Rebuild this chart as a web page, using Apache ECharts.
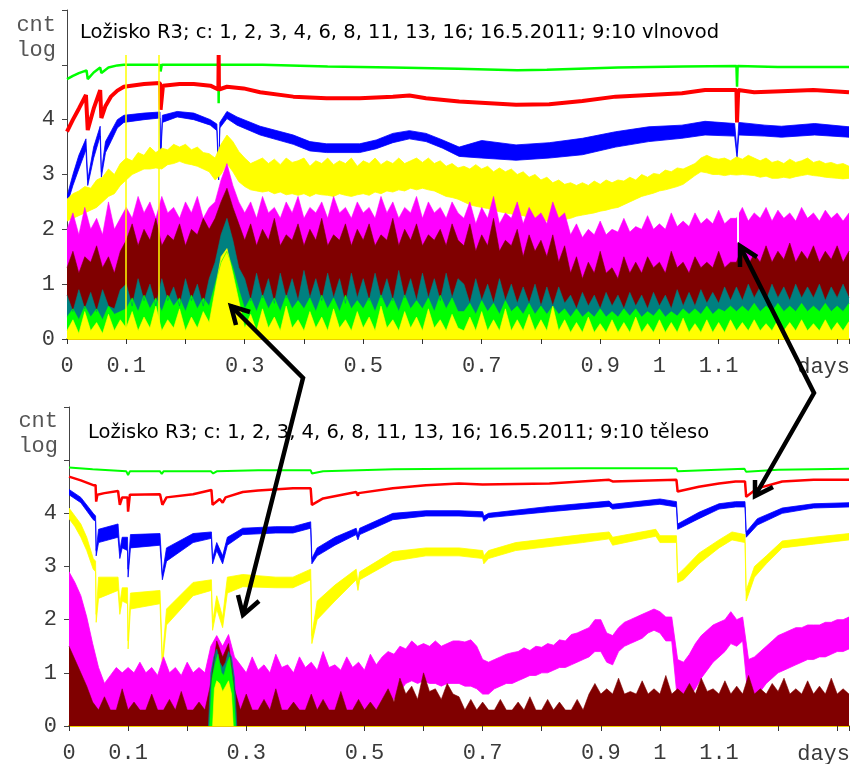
<!DOCTYPE html>
<html><head><meta charset="utf-8">
<script src="https://cdn.jsdelivr.net/npm/echarts@6/dist/echarts.min.js"></script>
<style>html,body{margin:0;padding:0;background:#fff}#c{width:852px;height:764px}</style>
</head><body><div id="c"></div>
<script>
// ---------- tick labels ----------
const xTickLabels = ['0','0.1','','0.3','','0.5','','0.7','','0.9','1','1.1','',''];
const yTickLabels = ['0','1','2','3','4','',''];
const titleTop = 'Ložisko R3; c: 1, 2, 3, 4, 6, 8, 11, 13, 16; 16.5.2011; 9:10 vlnovod';
const titleBottom = 'Ložisko R3; c: 1, 2, 3, 4, 6, 8, 11, 13, 16; 16.5.2011; 9:10 těleso';

// ---------- shared sample positions (days) ----------
const xs = [0,0.01,0.02,0.03,0.04,0.05,0.06,0.07,0.08,0.09,
0.1,0.11,0.12,0.13,0.14,0.15,0.16,0.17,0.18,0.19,
0.2,0.21,0.22,0.23,0.24,0.25,0.26,0.27,0.28,0.29,
0.3,0.31,0.32,0.33,0.34,0.35,0.36,0.37,0.38,0.39,
0.4,0.41,0.42,0.43,0.44,0.45,0.46,0.47,0.48,0.49,
0.5,0.51,0.52,0.53,0.54,0.55,0.56,0.57,0.58,0.59,
0.6,0.61,0.62,0.63,0.64,0.65,0.66,0.67,0.68,0.69,
0.7,0.71,0.72,0.73,0.74,0.75,0.76,0.77,0.78,0.79,
0.8,0.81,0.82,0.83,0.84,0.85,0.86,0.87,0.88,0.89,
0.9,0.91,0.92,0.93,0.94,0.95,0.96,0.97,0.98,0.99,
1,1.01,1.02,1.03,1.04,1.05,1.06,1.07,1.08,1.09,
1.1,1.11,1.12,1.13,1.14,1.15,1.16,1.17,1.18,1.19,
1.2,1.21,1.22,1.23,1.24,1.25,1.26,1.27,1.28,1.29,
1.3,1.31,1.32];

// ================= TOP PANEL (vlnovod) =================
const topGreen = [[0,4.74],[0.01,4.8],[0.02,4.85],[0.033,4.9],[0.035,4.74],[0.045,4.86],[0.056,4.95],[0.058,4.85],[0.07,4.95],[0.085,4.99],[0.096,5.0],[0.13,5.0],[0.157,5.0],[0.158,4.88],[0.16,5.0],[0.2555,5.0],[0.256,4.3],[0.2565,5.0],[0.33,5.0],[0.44,4.97],[0.55,4.95],[0.66,4.93],[0.76,4.9],[0.81,4.91],[0.93,4.95],[1.04,4.97],[1.13,4.98],[1.131,4.6],[1.132,4.98],[1.2,4.96],[1.32,4.96]];
const topRed = [[0,3.78],[0.01,4.0],[0.02,4.2],[0.032,4.45],[0.035,3.81],[0.045,4.2],[0.056,4.54],[0.058,4.03],[0.065,4.25],[0.074,4.42],[0.085,4.53],[0.096,4.6],[0.13,4.65],[0.157,4.67],[0.158,4.18],[0.162,4.62],[0.19,4.65],[0.214,4.65],[0.242,4.62],[0.2555,4.55],[0.256,5.18],[0.2565,4.55],[0.27,4.6],[0.298,4.57],[0.326,4.5],[0.382,4.42],[0.438,4.39],[0.494,4.39],[0.55,4.42],[0.578,4.44],[0.606,4.39],[0.662,4.33],[0.758,4.27],[0.814,4.28],[0.87,4.34],[0.926,4.42],[0.982,4.45],[1.038,4.48],[1.077,4.54],[1.13,4.54],[1.131,3.95],[1.133,4.54],[1.16,4.5],[1.206,4.52],[1.26,4.54],[1.32,4.5]];
const topBlueX = [0,0.01,0.02,0.032,0.035,0.045,0.056,0.058,0.065,0.075,0.085,0.096,0.13,0.157,0.158,0.161,0.186,0.214,0.242,0.253,0.256,0.258,0.27,0.287,0.326,0.382,0.41,0.438,0.494,0.522,0.55,0.578,0.606,0.634,0.662,0.70,0.758,0.814,0.87,0.926,0.982,1.038,1.077,1.127,1.131,1.134,1.178,1.206,1.262,1.32];
const topBlueLo = [2.45,2.8,3.1,3.45,2.8,3.3,3.7,2.95,3.4,3.62,3.85,3.95,4.0,4.03,3.24,3.95,4.05,4.0,3.9,3.8,2.9,3.85,4.02,3.9,3.72,3.55,3.43,3.4,3.4,3.47,3.58,3.65,3.6,3.48,3.33,3.3,3.26,3.3,3.36,3.5,3.6,3.66,3.72,3.7,3.3,3.72,3.7,3.68,3.72,3.68];
const topBlueHi = [2.6,3.0,3.35,3.65,2.9,3.5,3.88,3.05,3.6,3.8,4.0,4.08,4.12,4.14,3.3,4.08,4.15,4.12,4.0,3.92,3.0,3.95,4.15,4.05,3.88,3.72,3.6,3.56,3.56,3.63,3.75,3.8,3.75,3.63,3.5,3.62,3.54,3.58,3.66,3.78,3.87,3.9,3.97,3.93,3.4,3.95,3.9,3.88,3.93,3.87];
const topYellowHi = [2.55,2.65,2.7,2.78,2.75,2.9,2.95,3.1,3.0,3.2,
3.3,3.25,3.4,3.35,3.5,3.4,3.48,3.45,3.55,3.5,
3.55,3.45,3.5,3.4,3.38,3.3,3.55,3.72,3.6,3.42,
3.3,3.2,3.25,3.3,3.2,3.28,3.18,3.3,3.22,3.25,
3.3,3.15,3.25,3.2,3.3,3.18,3.25,3.2,3.3,3.15,
3.25,3.2,3.3,3.18,3.25,3.2,3.3,3.2,3.25,3.3,
3.22,3.3,3.2,3.25,3.15,3.2,3.12,3.15,3.1,3.18,
3.1,3.15,3.05,3.12,3.05,3.1,3.0,3.05,2.95,3.0,
2.9,2.95,2.85,2.9,2.82,2.85,2.8,2.85,2.8,2.88,
2.82,2.9,2.85,2.9,2.88,2.95,2.9,3.0,2.95,3.02,
3.0,3.08,3.05,3.12,3.1,3.15,3.2,3.3,3.35,3.3,
3.28,3.3,3.25,3.32,3.28,3.35,3.3,3.25,3.3,3.22,
3.25,3.2,3.28,3.22,3.25,3.3,3.22,3.25,3.2,3.22,
3.18,3.2,3.15];
const topYellowLo = [2.15,2.2,2.25,2.3,2.35,2.4,2.5,2.6,2.65,2.8,
2.9,3.0,3.05,3.1,3.1,3.12,3.1,3.18,3.2,3.24,
3.2,3.18,3.15,3.1,3.05,2.9,3.0,3.2,3.05,2.87,
2.78,2.72,2.7,2.68,2.7,2.65,2.68,2.63,2.65,2.62,
2.65,2.6,2.65,2.63,2.62,2.6,2.65,2.62,2.6,2.63,
2.65,2.62,2.68,2.65,2.7,2.68,2.72,2.7,2.75,2.72,
2.75,2.72,2.7,2.65,2.6,2.58,2.55,2.5,2.45,2.42,
2.4,2.38,2.35,2.32,2.3,2.28,2.26,2.25,2.22,2.2,
2.18,2.15,2.14,2.15,2.18,2.2,2.24,2.26,2.28,2.3,
2.33,2.35,2.38,2.4,2.45,2.5,2.55,2.6,2.63,2.66,
2.7,2.72,2.75,2.78,2.82,2.9,2.98,3.05,3.03,3.0,
3.0,2.98,3.0,2.99,3.0,2.99,2.98,2.95,2.97,2.93,
2.93,2.95,2.93,2.96,2.98,3.0,2.98,2.97,2.95,2.94,
2.93,2.92,2.93];
const topMagenta = [2.0,2.3,1.9,2.4,2.0,2.2,1.9,2.5,2.0,2.2,
2.4,2.2,2.6,2.3,2.5,2.2,2.6,2.3,2.4,2.2,2.5,2.3,2.6,2.2,2.4,
2.5,2.9,3.2,2.8,2.5,
2.3,2.5,2.2,2.6,2.3,2.4,2.2,2.5,2.3,2.6,2.2,2.4,2.3,2.5,2.2,2.6,2.3,2.4,2.2,2.5,2.3,2.4,2.2,2.6,2.3,2.5,2.2,2.4,2.3,2.6,2.2,2.5,2.3,2.4,2.2,2.5,2.3,
2.2,2.5,2.1,2.4,2.2,2.6,2.1,2.3,2.2,2.5,2.1,2.4,2.2,2.3,2.1,2.5,2.2,2.3,
1.9,2.1,1.85,2.0,1.9,2.15,1.9,2.0,1.95,2.2,1.95,2.05,2.0,2.25,2.0,2.1,2.0,2.3,2.05,2.15,2.05,2.3,2.1,2.2,2.1,2.35,2.1,2.2,
2.2,2.4,2.15,2.3,2.2,2.4,2.15,2.35,2.2,2.3,2.15,2.4,2.2,2.3,2.15,2.35,2.2,2.3,2.15,2.3];
const topMaroon = [1.3,1.6,1.2,1.5,1.4,1.7,1.3,1.5,1.2,1.6,
1.8,2.1,1.7,2.0,1.8,2.2,1.7,1.9,1.8,2.1,1.7,2.0,1.9,2.2,2.0,
2.2,2.5,2.75,2.4,2.1,
1.8,2.1,1.7,2.0,1.8,2.2,1.7,1.9,1.8,2.1,1.7,2.0,1.8,2.2,1.7,1.9,1.8,2.1,1.7,2.0,1.8,2.1,1.7,1.9,1.8,2.2,1.7,2.0,1.8,2.1,1.7,1.9,1.8,2.0,1.7,2.1,1.8,
1.7,2.1,1.6,1.9,1.7,2.2,1.6,1.8,1.7,2.0,1.5,1.9,1.6,1.8,1.5,1.9,1.4,1.7,
1.2,1.5,1.1,1.4,1.2,1.6,1.2,1.3,1.1,1.5,1.2,1.4,1.2,1.5,1.3,1.4,1.2,1.6,1.3,1.4,1.2,1.5,1.3,1.4,1.3,1.6,1.3,1.4,
1.4,1.7,1.35,1.55,1.4,1.7,1.4,1.6,1.45,1.75,1.4,1.6,1.45,1.7,1.4,1.6,1.45,1.7,1.4,1.6];
const topTeal = [0.8,0.5,0.9,0.55,0.85,0.5,0.9,0.6,0.55,0.9,
1.0,0.6,1.1,0.7,1.0,0.6,1.1,0.7,0.95,0.6,1.1,0.7,1.0,0.6,1.1,
1.4,1.9,2.2,1.8,1.3,
1.1,0.7,1.2,0.75,1.1,0.65,1.2,0.75,1.1,0.7,1.25,0.75,1.1,0.7,1.2,0.75,1.1,0.65,1.2,0.75,1.1,0.7,1.2,0.75,1.1,0.7,1.25,0.75,1.1,0.7,1.2,0.75,1.1,0.7,1.2,0.75,1.1,
1.0,0.65,1.1,0.7,1.0,0.65,1.1,0.7,1.0,0.65,0.95,0.65,1.0,0.6,0.95,0.6,0.95,0.65,
0.8,0.55,0.85,0.6,0.8,0.55,0.85,0.6,0.8,0.55,0.85,0.6,0.8,0.55,0.85,0.6,0.8,0.55,0.9,0.6,0.85,0.6,0.9,0.65,0.85,0.65,0.95,0.7,
0.95,0.7,1.0,0.75,0.95,0.7,1.0,0.75,0.95,0.7,1.0,0.75,0.95,0.75,1.0,0.7,0.95,0.75,1.0,0.75];
const topLime = [0.4,0.55,0.35,0.6,0.4,0.55,0.35,0.6,0.45,0.5,
0.55,0.75,0.5,0.8,0.55,0.75,0.5,0.8,0.6,0.75,0.5,0.8,0.55,0.75,0.6,
1.0,1.4,1.6,1.3,0.9,
0.55,0.75,0.5,0.8,0.55,0.75,0.5,0.8,0.55,0.7,0.55,0.75,0.5,0.8,0.55,0.75,0.5,0.8,0.55,0.7,0.55,0.75,0.5,0.8,0.55,0.75,0.5,0.8,0.55,0.7,0.55,0.75,0.5,0.8,0.55,0.75,0.5,
0.5,0.65,0.45,0.7,0.5,0.65,0.45,0.7,0.5,0.6,0.45,0.65,0.45,0.6,0.45,0.6,0.45,0.55,
0.4,0.55,0.4,0.5,0.4,0.55,0.4,0.5,0.4,0.55,0.42,0.55,0.4,0.5,0.42,0.55,0.4,0.5,0.42,0.55,0.45,0.55,0.45,0.6,0.45,0.55,0.5,0.6,
0.5,0.6,0.5,0.65,0.5,0.6,0.5,0.65,0.5,0.6,0.5,0.65,0.5,0.6,0.5,0.65,0.5,0.6,0.5,0.65];
const topYellow2 = [0.15,0.35,0.1,0.5,0.15,0.3,0.1,0.45,0.15,0.35,
0.2,0.5,0.15,0.4,0.2,0.6,0.15,0.35,0.2,0.55,0.15,0.4,0.2,0.5,0.3,
0.9,1.5,1.65,1.2,0.7,
0.2,0.45,0.15,0.55,0.2,0.4,0.15,0.6,0.2,0.35,0.15,0.5,0.2,0.4,0.15,0.55,0.2,0.35,0.15,0.5,0.2,0.4,0.15,0.6,0.2,0.35,0.15,0.5,0.2,0.4,0.15,0.55,0.2,0.35,0.15,0.45,0.2,
0.15,0.4,0.15,0.5,0.15,0.35,0.15,0.55,0.15,0.35,0.15,0.45,0.15,0.35,0.15,0.6,0.15,0.35,
0.12,0.3,0.12,0.4,0.12,0.28,0.12,0.35,0.12,0.3,0.12,0.4,0.12,0.28,0.12,0.35,0.12,0.3,0.12,0.38,0.12,0.28,0.12,0.35,0.12,0.3,0.12,0.35,
0.15,0.3,0.15,0.35,0.15,0.28,0.15,0.35,0.15,0.3,0.15,0.35,0.15,0.28,0.15,0.35,0.15,0.3,0.15,0.32];
// full-height glitches: [day, from, to]
const topSpikes = [[0.099,0,5.18],[0.155,0,5.18]];
const topGaps = [[1.132,1.75,2.95]];

// ================= BOTTOM PANEL (těleso) =================
const botGreen = [[0,4.86],[0.04,4.83],[0.097,4.79],[0.1,4.72],[0.103,4.79],[0.154,4.79],[0.157,4.74],[0.16,4.79],[0.24,4.79],[0.244,4.75],[0.25,4.79],[0.32,4.81],[0.409,4.81],[0.411,4.75],[0.43,4.79],[0.55,4.83],[0.66,4.84],[0.87,4.85],[1.028,4.85],[1.03,4.79],[1.143,4.84],[1.146,4.78],[1.2,4.82],[1.32,4.84]];
const botRed = [[0,4.69],[0.02,4.62],[0.041,4.53],[0.045,4.53],[0.046,4.22],[0.048,4.35],[0.06,4.38],[0.083,4.42],[0.086,4.16],[0.09,4.3],[0.099,4.3],[0.1,4.03],[0.103,4.35],[0.154,4.36],[0.158,4.16],[0.165,4.3],[0.21,4.36],[0.241,4.44],[0.243,4.16],[0.255,4.27],[0.26,4.2],[0.265,4.3],[0.294,4.4],[0.32,4.43],[0.379,4.47],[0.409,4.47],[0.411,4.16],[0.43,4.28],[0.486,4.4],[0.489,4.33],[0.49,4.38],[0.548,4.47],[0.604,4.53],[0.66,4.56],[0.7,4.54],[0.813,4.56],[0.914,4.63],[0.92,4.6],[1.028,4.63],[1.03,4.41],[1.066,4.5],[1.1,4.56],[1.128,4.6],[1.144,4.6],[1.146,4.31],[1.165,4.47],[1.207,4.6],[1.26,4.63],[1.32,4.63]];
const botBlueX = [0,0.02,0.041,0.045,0.046,0.05,0.083,0.086,0.09,0.099,0.1,0.104,0.154,0.158,0.165,0.21,0.241,0.243,0.25,0.26,0.268,0.294,0.35,0.379,0.409,0.411,0.42,0.45,0.486,0.489,0.492,0.548,0.604,0.66,0.7,0.702,0.71,0.813,0.914,0.92,1.0,1.028,1.03,1.066,1.1,1.128,1.144,1.146,1.165,1.207,1.26,1.32];
const botBlueLo = [4.35,4.2,3.88,3.85,3.2,3.45,3.55,3.15,3.35,3.3,2.8,3.35,3.4,2.75,3.1,3.45,3.53,3.05,3.3,3.05,3.4,3.6,3.63,3.63,3.72,3.05,3.2,3.4,3.6,3.5,3.6,3.88,3.95,3.95,3.93,3.85,3.92,4.03,4.13,4.08,4.17,4.12,3.7,3.9,4.08,4.12,4.12,3.55,3.78,4.0,4.1,4.12];
const botBlueHi = [4.45,4.3,4.0,3.95,3.3,3.7,3.8,3.3,3.55,3.55,2.95,3.6,3.62,2.85,3.35,3.62,3.65,3.15,3.45,3.2,3.55,3.72,3.75,3.75,3.84,3.15,3.35,3.55,3.72,3.6,3.72,4.0,4.05,4.05,4.03,3.95,4.0,4.13,4.23,4.17,4.27,4.22,3.8,4.02,4.18,4.22,4.22,3.65,3.9,4.1,4.18,4.2];
const botYellowX = [0,0.01,0.02,0.03,0.041,0.045,0.046,0.05,0.083,0.086,0.09,0.099,0.1,0.104,0.154,0.158,0.165,0.21,0.241,0.243,0.25,0.26,0.268,0.294,0.35,0.379,0.409,0.411,0.42,0.45,0.486,0.489,0.492,0.548,0.604,0.66,0.7,0.702,0.71,0.756,0.869,0.914,0.92,0.993,1.0,1.028,1.03,1.04,1.066,1.1,1.122,1.144,1.146,1.16,1.18,1.207,1.26,1.32];
const botYellowLo = [3.9,3.75,3.55,3.3,2.95,2.9,1.95,2.4,2.55,2.1,2.35,2.3,1.45,2.2,2.3,1.1,1.9,2.45,2.55,1.8,2.2,1.85,2.5,2.62,2.6,2.6,2.75,1.55,2.0,2.35,2.75,2.55,2.75,3.1,3.2,3.2,3.15,3.05,3.15,3.3,3.45,3.52,3.4,3.57,3.45,3.45,2.7,2.75,3.05,3.35,3.5,3.45,2.35,2.8,3.05,3.35,3.42,3.5];
const botYellowHi = [4.1,3.95,3.8,3.55,3.15,3.1,2.1,2.8,2.8,2.3,2.6,2.6,1.6,2.5,2.55,1.25,2.2,2.7,2.75,1.95,2.45,2.05,2.8,2.85,2.8,2.8,2.95,1.7,2.35,2.65,2.95,2.7,2.9,3.28,3.35,3.35,3.3,3.2,3.3,3.45,3.6,3.65,3.55,3.7,3.58,3.58,2.85,2.95,3.25,3.5,3.65,3.6,2.55,3.0,3.2,3.48,3.55,3.62];
const botMagentaHi = [2.9,2.7,2.45,2.05,1.55,1.1,0.8,0.95,1.1,1.0,
1.1,1.0,1.2,1.0,1.1,0.95,1.3,1.0,1.1,0.95,1.2,1.0,1.1,1.0,
1.5,1.7,1.5,1.72,1.3,
1.15,1.0,1.3,1.05,1.15,1.0,1.35,1.1,1.15,1.0,1.3,1.1,1.2,1.05,1.4,1.1,1.15,1.05,1.3,1.1,1.2,1.05,1.35,1.15,
1.3,1.4,1.35,1.5,1.45,1.6,1.5,1.55,1.5,1.6,1.5,1.55,1.6,
1.6,1.58,1.62,1.5,1.25,1.2,1.25,1.3,1.35,1.38,
1.4,1.47,1.42,1.5,1.48,1.55,1.52,1.62,1.6,1.72,
1.75,1.8,1.85,2.0,2.0,1.75,1.7,1.85,1.95,2.0,
2.05,2.1,2.15,2.2,2.15,2.05,2.05,1.25,1.2,1.35,
1.55,1.7,1.8,1.9,1.95,2.0,2.15,2.0,2.05,1.25,
1.3,1.4,1.5,1.6,1.7,1.75,1.8,1.85,1.85,1.9,
1.9,1.9,1.95,1.95,2.0,2.0,2.05];
const botMagentaLo = [0,0,0,0,0,0,0,0,0,0,0,0,0,0,0,0,0,0,0,0,0,0,0,0,0,0,0,0,0,0,0,0,0,0,0,0,0,0,0,0,0,0,0,0,0,0,0,0,0,0,0,0,0,
0.2,0.4,0.5,0.65,0.8,0.85,0.8,0.85,0.8,0.8,
0.75,0.8,0.8,0.8,0.75,0.75,0.7,0.6,0.6,0.7,
0.75,0.8,0.8,0.85,0.9,0.95,0.95,1.0,1.0,1.05,
1.1,1.1,1.15,1.2,1.25,1.3,1.4,1.4,1.2,1.15,
1.4,1.5,1.55,1.6,1.65,1.75,1.8,1.75,1.6,1.6,
0.45,0.4,0.55,0.7,0.9,1.05,1.2,1.3,1.4,1.55,
1.5,1.6,0.45,0.5,0.65,0.8,0.9,1.0,1.05,1.1,
1.15,1.2,1.25,1.25,1.3,1.3,1.35,1.4,1.4,1.45];
const botMaroon = [1.5,1.25,1.0,0.75,0.45,
0.3,0.55,0.3,0.3,0.7,0.3,0.45,0.3,0.3,0.6,0.3,0.3,0.5,0.3,0.65,0.3,0.3,0.45,0.3,
0.8,1.6,1.3,1.55,0.7,
0.3,0.6,0.3,0.3,0.5,0.3,0.7,0.3,0.3,0.45,0.3,0.3,0.6,0.3,0.5,0.3,0.3,0.65,0.3,0.3,0.5,0.3,0.45,0.3,
0.5,0.7,0.45,0.9,0.6,0.75,0.5,1.0,0.65,0.7,0.5,0.8,0.6,0.55,
0.3,0.5,0.3,0.45,0.3,0.3,0.5,0.3,0.3,0.45,0.3,0.55,0.3,0.3,0.5,0.3,0.45,0.3,0.3,0.5,0.3,
0.6,0.8,0.6,0.7,0.6,0.9,0.6,0.65,0.6,0.85,0.6,0.7,0.6,0.95,0.6,0.7,0.6,0.8,0.6,0.9,
0.65,0.7,0.6,0.85,0.6,0.75,0.6,0.95,0.6,0.7,0.6,0.8,0.65,0.9,0.6,0.7,0.6,0.85,0.6,0.75,
0.6,0.9,0.6,0.7,0.6];
const botTeal = [[0.236,0],[0.24,1.0],[0.245,1.3],[0.25,1.45],[0.255,1.2],[0.26,1.1],[0.265,1.2],[0.27,1.4],[0.275,1.3],[0.28,0.9],[0.284,0]];
const botLime = [[0.238,0],[0.242,0.9],[0.248,1.2],[0.252,1.35],[0.258,1.0],[0.262,0.95],[0.268,1.2],[0.272,1.3],[0.278,0.8],[0.282,0]];
const botYellow2 = [[0.243,0],[0.246,0.7],[0.25,0.85],[0.255,0.8],[0.26,0.65],[0.265,0.75],[0.27,0.85],[0.275,0.6],[0.278,0]];

// ---------- build ----------
const series = [];
function pairs(x, y) { return x.map((v, i) => [v, y[i]]); }
function line(gi, data, color, width) {
  series.push({type:'line', xAxisIndex:gi, yAxisIndex:gi, data, symbol:'none', silent:true,
    lineStyle:{color, width}});
}
function area(gi, data, color, extra) {
  series.push(Object.assign({type:'line', xAxisIndex:gi, yAxisIndex:gi, data, symbol:'none', silent:true,
    lineStyle:{color, width:0.6}, areaStyle:{color, opacity:1}}, extra || {}));
}
// noisy band between lo and hi, drawn as one polygon through the axis scales
function band(gi, x, lo, hi, color) {
  series.push({type:'custom', xAxisIndex:gi, yAxisIndex:gi, silent:true, clip:true,
    data: x.map((v, i) => [v, lo[i], hi[i]]),
    encode:{x:0, y:[1, 2]},
    renderItem: function (params, api) {
      if (params.dataIndex !== 0) return null;
      const top = x.map((v, i) => api.coord([v, hi[i]]));
      const bot = x.map((v, i) => api.coord([v, lo[i]])).reverse();
      return {type:'polygon', shape:{points: top.concat(bot)},
        style:{fill:color, stroke:color, lineWidth:0.8}};
    }});
}

line(0, topGreen, '#00ff00', 2.5);
line(0, topRed, '#ff0000', 4);
band(0, topBlueX, topBlueLo, topBlueHi, '#0000ff');
band(0, xs, topYellowLo, topYellowHi, '#ffff00');
area(0, pairs(xs, topMagenta), '#ff00ff');
area(0, pairs(xs, topMaroon), '#800000');
area(0, pairs(xs, topTeal), '#008080');
area(0, pairs(xs, topLime), '#00ff00');
area(0, pairs(xs, topYellow2), '#ffff00', {
  markLine: {silent:true, symbol:['none','none'], animation:false, label:{show:false},
    lineStyle:{color:'#ffff00', width:1.5, type:'solid', opacity:1},
    data: topSpikes.map(s => [{coord:[s[0], s[1]]}, {coord:[s[0], s[2]]}])
      .concat(topGaps.map(s => [{coord:[s[0], s[1]], lineStyle:{color:'#ffffff', width:2}}, {coord:[s[0], s[2]]}]))}
});

line(1, botGreen, '#00ff00', 2);
line(1, botRed, '#ff0000', 2.5);
band(1, botBlueX, botBlueLo, botBlueHi, '#0000ff');
band(1, botYellowX, botYellowLo, botYellowHi, '#ffff00');
band(1, xs, botMagentaLo, botMagentaHi, '#ff00ff');
area(1, pairs(xs, botMaroon), '#800000');
area(1, botTeal, '#008080');
area(1, botLime, '#00ff00');
area(1, botYellow2, '#ffff00');

const mono = '"Liberation Mono", "Courier New", monospace';
const labelColor = '#3a3a3a';
function xAxis(gi) {
  return {type:'value', gridIndex:gi, min:0, max:1.32, interval:0.1,
    splitLine:{show:false},
    axisLine:{onZero:false, lineStyle:{color:'#ecd000', width:2}},
    axisTick:{length:5, lineStyle:{color:'#333'}},
    axisLabel:{fontFamily:mono, fontSize:22, color:labelColor, margin:16,
      formatter: v => xTickLabels[Math.round(v * 10)] || ''}};
}
function yAxis(gi) {
  return {type:'value', gridIndex:gi, min:0, max:6, interval:1,
    splitLine:{show:false},
    axisLine:{show:true, onZero:false, lineStyle:{color:'#444'}},
    axisTick:{show:true, length:5, lineStyle:{color:'#444'}},
    axisLabel:{fontFamily:mono, fontSize:22, color:labelColor, margin:12,
      formatter: v => yTickLabels[Math.round(v)] || ''}};
}
function txt(x, y, text, font, color, align) {
  return {type:'text', x, y, z:100, silent:true,
    style:{text, font, fill:color, align: align || 'left', verticalAlign:'middle'}};
}
function arrowPath(points) {
  return {type:'polyline', z:100, silent:true, shape:{points},
    style:{stroke:'#000', lineWidth:4.5, fill:null, lineJoin:'miter', lineCap:'butt'}};
}
const sans = '19.5px "DejaVu Sans", Verdana, sans-serif';
const monoFont = '22px "Liberation Mono", "Courier New", monospace';
const graphic = [
  txt(80, 33, titleTop, sans, '#000'),
  txt(88, 433, titleBottom, sans, '#000'),
  txt(56, 25, 'cnt', monoFont, '#555', 'right'),
  txt(56, 50, 'log', monoFont, '#555', 'right'),
  txt(58, 421, 'cnt', monoFont, '#555', 'right'),
  txt(58, 446, 'log', monoFont, '#555', 'right'),
  txt(850, 367, 'days', monoFont, labelColor, 'right'),
  txt(850, 754, 'days', monoFont, labelColor, 'right'),
  arrowPath([[231,306],[303,378],[243,615]]),
  arrowPath([[250,312],[231,306],[236,325]]),
  arrowPath([[238,595],[243,615],[259,601]]),
  arrowPath([[740,246],[814,393],[755,496]]),
  arrowPath([[757,257],[740,246],[740,267]]),
  arrowPath([[755,480],[755,496],[773,487]])
];

const chart = echarts.init(document.getElementById('c'), null, {renderer:'canvas'});
chart.setOption({
  animation:false,
  backgroundColor:'#fff',
  grid:[{left:67, top:10, width:784, height:329}, {left:69, top:407, width:782, height:320}],
  xAxis:[xAxis(0), xAxis(1)],
  yAxis:[yAxis(0), yAxis(1)],
  series,
  graphic
});
</script></body></html>
